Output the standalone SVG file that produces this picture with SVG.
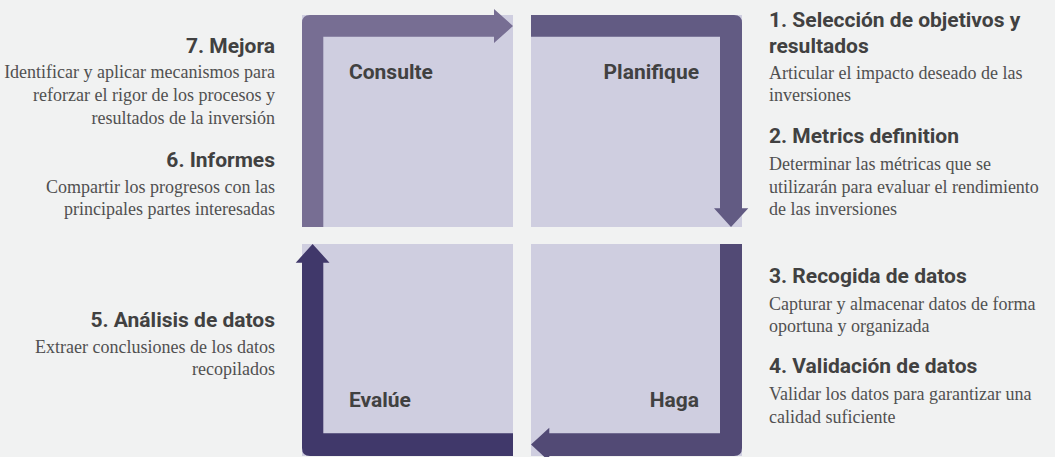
<svg xmlns="http://www.w3.org/2000/svg" width="1055" height="457" viewBox="0 0 1055 457">
<style>
.bg{fill:#f1f2f2}
.quad{fill:#cfcee0}
.ql{font-family:Roboto,"Liberation Sans",sans-serif;font-weight:700;font-size:21px;fill:#414141}
.h{font-family:Roboto,"Liberation Sans",sans-serif;font-weight:700;font-size:21px;fill:#414141}
.b{font-family:"Liberation Serif","DejaVu Serif",serif;font-size:18px;fill:#505050}
.r{text-anchor:end}
</style>
<rect class="bg" x="0" y="0" width="1055" height="457"/>
<g id="consulte">
<rect class="quad" x="302" y="15" width="211" height="212"/>
<text class="ql" x="349" y="79">Consulte</text>
</g>
<g id="planifique">
<rect class="quad" x="531" y="15" width="211" height="212"/>
<text class="ql r" x="699" y="79">Planifique</text>
</g>
<g id="evalue">
<rect class="quad" x="302" y="244" width="211" height="212"/>
<text class="ql" x="349" y="407">Evalúe</text>
</g>
<g id="haga">
<rect class="quad" x="531" y="244" width="211" height="212"/>
<text class="ql r" x="699" y="407">Haga</text>
</g>
<g id="connectors">
<path fill="#776e93" d="M302,227 L302,23 Q302,15 310,15 L494,15 L494,9 L513,26 L494,43 L494,36.7 L323.3,36.7 L323.3,227 Z"/>
<path fill="#625b83" d="M531,15 L734,15 Q742,15 742,23 L742,208.3 L748.3,208.3 L731,227 L714,208.3 L720,208.3 L720,36.7 L531,36.7 Z"/>
<path fill="#524a75" d="M742,244 L742,448 Q742,456 734,456 L549.3,456 L549.3,461.5 L531,444.5 L549.3,427.8 L549.3,433.3 L720,433.3 L720,244 Z"/>
<path fill="#40386a" d="M513,456 L310,456 Q302,456 302,448 L302,262.7 L295.7,262.7 L312.6,244 L329.5,262.7 L323.3,262.7 L323.3,433.3 L513,433.3 Z"/>
</g>
<g id="step1">
<text class="h" x="769" y="27">1. Selección de objetivos y</text>
<text class="h" x="769" y="53">resultados</text>
<text class="b" x="769" y="79">Articular el impacto deseado de las</text>
<text class="b" x="769" y="101">inversiones</text>
</g>
<g id="step2">
<text class="h" x="769" y="143">2. Metrics definition</text>
<text class="b" x="769" y="170">Determinar las métricas que se</text>
<text class="b" x="769" y="193">utilizarán para evaluar el rendimiento</text>
<text class="b" x="769" y="215">de las inversiones</text>
</g>
<g id="step3">
<text class="h" x="769" y="283">3. Recogida de datos</text>
<text class="b" x="769" y="310">Capturar y almacenar datos de forma</text>
<text class="b" x="769" y="332">oportuna y organizada</text>
</g>
<g id="step4">
<text class="h" x="769" y="373">4. Validación de datos</text>
<text class="b" x="769" y="400">Validar los datos para garantizar una</text>
<text class="b" x="769" y="423">calidad suficiente</text>
</g>
<g id="step5">
<text class="h r" x="275" y="327">5. Análisis de datos</text>
<text class="b r" x="275" y="353">Extraer conclusiones de los datos</text>
<text class="b r" x="275" y="375">recopilados</text>
</g>
<g id="step6">
<text class="h r" x="275" y="167">6. Informes</text>
<text class="b r" x="275" y="193">Compartir los progresos con las</text>
<text class="b r" x="275" y="215">principales partes interesadas</text>
</g>
<g id="step7">
<text class="h r" x="275" y="53">7. Mejora</text>
<text class="b r" x="275" y="78">Identificar y aplicar mecanismos para</text>
<text class="b r" x="275" y="101">reforzar el rigor de los procesos y</text>
<text class="b r" x="275" y="124">resultados de la inversión</text>
</g>
</svg>
